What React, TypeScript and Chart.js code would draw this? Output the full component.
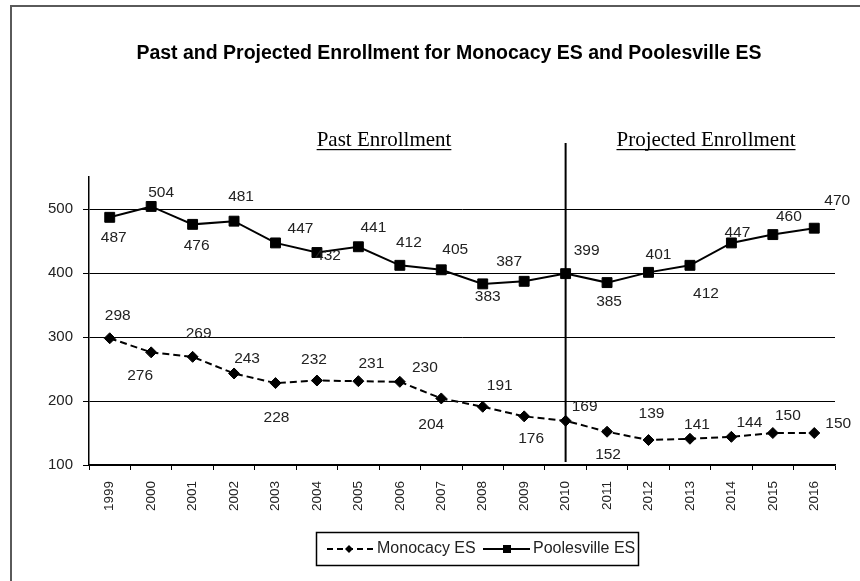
import React, { useEffect, useRef } from 'react';
import { Chart, registerables } from 'chart.js';

Chart.register(...registerables);

const titleText = 'Past and Projected Enrollment for Monocacy ES and Poolesville ES';
const years = ['1999', '2000', '2001', '2002', '2003', '2004', '2005', '2006', '2007', '2008', '2009', '2010', '2011', '2012', '2013', '2014', '2015', '2016'];
const monocacyValues = [298, 276, 269, 243, 228, 232, 231, 230, 204, 191, 176, 169, 152, 139, 141, 144, 150, 150];
const poolesvilleValues = [487, 504, 476, 481, 447, 432, 441, 412, 405, 383, 387, 399, 385, 401, 412, 447, 460, 470];
const seriesNames = ['Monocacy ES', 'Poolesville ES'];
const yTickValues = [100, 200, 300, 400, 500];
const dividerYear = '2010';
const sectionLabels = ['Past Enrollment', 'Projected Enrollment'];

// label placement (style): [dx, dy] from each point
const monocacyLabelOffsets = [[8, -23], [-11, 23], [6, -23], [13, -15], [1, 35], [-3, -21], [13, -17], [25, -14], [-10, 26], [17, -21], [7, 22], [19, -14], [1, 23], [3, -26], [7, -14], [18, -14], [15, -17], [24, -9]];
const poolesvilleLabelOffsets = [[4, 20], [10, -14], [4, 21], [7, -24], [25, -14], [11, 3], [15, -19], [9, -23], [14, -20], [5, 13], [-15, -20], [21, -23], [2, 19], [10, -18], [16, 28], [6, -10], [16, -18], [23, -27]];

const FONT = '"Liberation Sans", Arial, sans-serif';
const SERIF = '"Liberation Serif", "Times New Roman", serif';
const TEXT = '#222';

const decorPlugin = {
  id: 'decor',
  beforeDatasetsDraw(chart: any) {
    const { ctx, scales } = chart;
    const x = scales.x;
    const vx = x.getPixelForValue(years.indexOf(dividerYear));
    ctx.save();
    ctx.strokeStyle = '#000';
    ctx.lineWidth = 2;
    ctx.beginPath();
    ctx.moveTo(vx, 143);
    ctx.lineTo(vx, 462);
    ctx.stroke();
    ctx.restore();
  },
  afterDatasetsDraw(chart: any) {
    const { ctx } = chart;
    const offsets = [monocacyLabelOffsets, poolesvilleLabelOffsets];
    ctx.save();
    ctx.font = `15.5px ${FONT}`;
    ctx.fillStyle = TEXT;
    ctx.textAlign = 'center';
    ctx.textBaseline = 'middle';
    chart.data.datasets.forEach((ds: any, di: number) => {
      const meta = chart.getDatasetMeta(di);
      meta.data.forEach((pt: any, i: number) => {
        const [dx, dy] = offsets[di][i];
        ctx.fillText(String(ds.data[i]), pt.x + dx, pt.y + dy);
      });
    });
    ctx.restore();
  },
  afterDraw(chart: any) {
    const { ctx } = chart;
    ctx.save();
    // frame
    ctx.strokeStyle = '#5a5a5a';
    ctx.lineWidth = 2;
    ctx.strokeRect(11, 6, 1000, 1000);
    // title
    ctx.fillStyle = '#000';
    ctx.font = `bold 19.5px ${FONT}`;
    ctx.textAlign = 'center';
    ctx.textBaseline = 'alphabetic';
    ctx.fillText(titleText, 449, 59);
    // section labels
    ctx.font = `21px ${SERIF}`;
    const secCenters = [384, 706];
    sectionLabels.forEach((s, i) => {
      const w = ctx.measureText(s).width;
      ctx.fillText(s, secCenters[i], 146);
      ctx.fillRect(secCenters[i] - w / 2, 149, w, 1.2);
    });
    // legend
    ctx.strokeStyle = '#000';
    ctx.lineWidth = 1.5;
    ctx.strokeRect(316.5, 532.5, 322, 33);
    const ly = 549;
    ctx.lineWidth = 2;
    ctx.setLineDash([6, 4]);
    ctx.beginPath();
    ctx.moveTo(327, ly);
    ctx.lineTo(373, ly);
    ctx.stroke();
    ctx.setLineDash([]);
    ctx.fillStyle = '#000';
    ctx.beginPath();
    ctx.moveTo(349, ly - 4);
    ctx.lineTo(353, ly);
    ctx.lineTo(349, ly + 4);
    ctx.lineTo(345, ly);
    ctx.closePath();
    ctx.fill();
    ctx.beginPath();
    ctx.moveTo(483, ly);
    ctx.lineTo(530, ly);
    ctx.stroke();
    ctx.fillRect(503, ly - 4, 8, 8);
    ctx.fillStyle = TEXT;
    ctx.font = `16px ${FONT}`;
    ctx.textAlign = 'left';
    ctx.textBaseline = 'middle';
    ctx.fillText(seriesNames[0], 377, ly);
    ctx.fillText(seriesNames[1], 533, ly);
    ctx.restore();
  },
};

export default function App() {
  const ref = useRef<HTMLCanvasElement | null>(null);
  useEffect(() => {
    document.body.style.margin = '0';
    const canvas = ref.current;
    if (!canvas) return;
    const chart = new Chart(canvas, {
      type: 'line',
      data: {
        labels: years,
        datasets: [
          {
            label: seriesNames[0],
            data: monocacyValues,
            borderColor: '#000',
            backgroundColor: '#000',
            borderWidth: 2,
            borderDash: [7, 4],
            pointStyle: 'rectRot',
            pointRadius: 5.5,
            pointBackgroundColor: '#000',
            pointBorderColor: '#000',
            pointBorderWidth: 1,
            tension: 0,
          },
          {
            label: seriesNames[1],
            data: poolesvilleValues,
            borderColor: '#000',
            backgroundColor: '#000',
            borderWidth: 2,
            pointStyle: 'rect',
            pointRadius: 7,
            pointBackgroundColor: '#000',
            pointBorderColor: '#000',
            pointBorderWidth: 1,
            tension: 0,
          },
        ],
      },
      options: {
        responsive: false,
        animation: false,
        events: [],
        layout: { padding: { top: 177, right: 25, bottom: 56, left: 0 } },
        plugins: {
          legend: { display: false },
          title: { display: false },
          tooltip: { enabled: false },
        },
        scales: {
          x: {
            offset: true,
            grid: { offset: true, drawOnChartArea: false, drawTicks: true, tickLength: 5, color: '#000', lineWidth: 1 },
            border: { color: '#000', width: 1.5 },
            ticks: { minRotation: 90, maxRotation: 90, autoSkip: false, padding: 11, color: TEXT, font: { family: FONT, size: 13.5 } },
            afterFit: (s: any) => { s.height = 60; },
          },
          y: {
            min: 100,
            max: 550,
            afterBuildTicks: (s: any) => { s.ticks = yTickValues.map((v) => ({ value: v })); },
            grid: { color: '#000', lineWidth: 1, tickLength: 6 },
            border: { color: '#000', width: 1.5 },
            ticks: { padding: 10, color: TEXT, font: { family: FONT, size: 15 } },
            afterFit: (s: any) => { s.width = 89; },
          },
        },
      },
      plugins: [decorPlugin],
    });
    return () => chart.destroy();
  }, []);
  return (
    <div style={{ width: 860, height: 581, background: '#fff' }}>
      <canvas ref={ref} width={860} height={581} style={{ display: 'block' }} />
    </div>
  );
}
